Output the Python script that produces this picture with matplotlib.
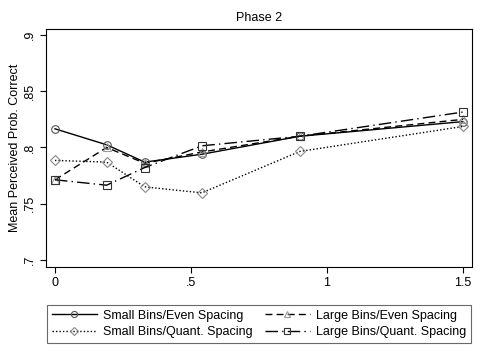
import matplotlib
matplotlib.use("Agg")
import matplotlib.pyplot as plt

plt.rcParams['font.family'] = ['Liberation Sans', 'DejaVu Sans']

x_vals = [0, 0.19, 0.33, 0.54, 0.9, 1.5]
small_even = [0.8166, 0.8024, 0.787, 0.794, 0.810, 0.823]
large_even = [0.7713, 0.800, 0.786, 0.796, 0.810, 0.825]
small_quant = [0.7885, 0.787, 0.765, 0.7597, 0.7965, 0.8187]
large_quant = [0.7713, 0.7665, 0.7822, 0.8015, 0.810, 0.8315]

labels = ["Small Bins/Even Spacing", "Large Bins/Even Spacing",
          "Small Bins/Quant. Spacing", "Large Bins/Quant. Spacing"]
xticks = [0, 0.5, 1, 1.5]
xticklabels = ["0", ".5", "1", "1.5"]
yticks = [0.7, 0.75, 0.8, 0.85, 0.9]
yticklabels = [".7", ".75", ".8", ".85", ".9"]

fs = 9
fig = plt.figure(figsize=(4.85, 3.52), dpi=100)
ax = fig.add_axes([46/485, 1-267/352, 426/485, 238/352])

ms = 5.5
l1, = ax.plot(x_vals, small_even, color='black', lw=1.0, ls='-',
              marker='o', ms=ms, mfc='none', mec='#555555', mew=0.8, label=labels[0])
l2, = ax.plot(x_vals, large_even, color='black', lw=1.0, ls=(0, (5, 3)),
              marker='^', ms=ms, mfc='none', mec='#999999', mew=0.8, label=labels[1])
l3, = ax.plot(x_vals, small_quant, color='black', lw=1.0, ls=(0, (1, 1.5)),
              marker='D', ms=ms-0.8, mfc='none', mec='#888888', mew=0.8, label=labels[2])
l4, = ax.plot(x_vals, large_quant, color='black', lw=1.0, ls=(0, (9, 3, 1, 3)),
              marker='s', ms=ms, mfc='none', mec='#333333', mew=0.8, label=labels[3])

ax.set_xlim(-0.033, 1.533)
ax.set_ylim(0.6938, 0.9053)
ax.set_xticks(xticks)
ax.set_xticklabels(xticklabels)
ax.set_yticks(yticks)
ax.set_yticklabels(yticklabels, rotation=90, va='center')
ax.tick_params(labelsize=fs, length=4, width=0.8, color='black', pad=3)
for s in ax.spines.values():
    s.set_linewidth(0.8)
ax.set_ylabel("Mean Perceived Prob. Correct", fontsize=fs, labelpad=2)
ax.set_title("Phase 2", fontsize=fs, pad=6)

leg = fig.legend(handles=[l1, l3, l2, l4],
                 labels=[labels[0], labels[2], labels[1], labels[3]], ncol=2,
                 loc='center', bbox_to_anchor=(259/485, 1-324/352),
                 fontsize=fs, frameon=True, fancybox=False, edgecolor='#444444',
                 handlelength=3.6, columnspacing=1.0, handletextpad=0.5,
                 borderpad=0.4, labelspacing=0.35, markerscale=0.8)
leg.get_frame().set_linewidth(0.8)

fig.savefig("out.png", dpi=100)
